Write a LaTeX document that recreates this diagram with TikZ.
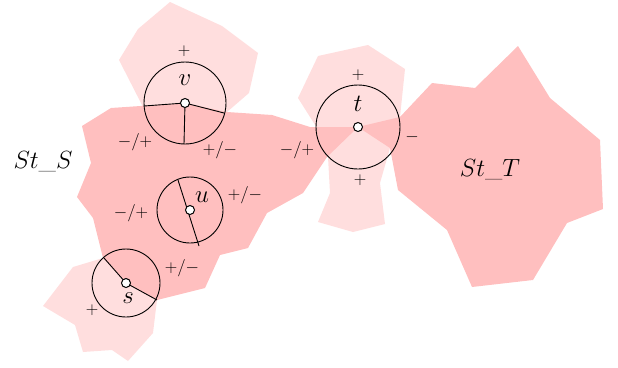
\documentclass[tikz,border=0pt]{standalone}
\begin{document}
\begin{tikzpicture}[x=1pt,y=-1pt,
  light/.style={fill=red!13, draw=none},
  dark/.style={fill=red!25, draw=none},
  vcirc/.style={circle, draw=black, line width=0.9pt, minimum size=#1, inner sep=0pt},
  dot/.style={circle, draw=black, fill=white, line width=1pt, minimum size=9pt, inner sep=0pt},
  big/.style={font=\fontsize{25}{25}\selectfont},
  sml/.style={font=\fontsize{17}{17}\selectfont},
  edge/.style={line width=0.9pt}]
\useasboundingbox (0,0) rectangle (618,367);
% light regions
\fill[light] (170,2)--(222,26)--(258,53)--(249,93)--(227,112)--(185,103)--(143,107)--(119,60)--(138,29)--cycle;
\fill[light] (103,258)--(73,267)--(43,306)--(75,325)--(83,352)--(112,350)--(128,361)--(153,333)--(157,300)--(126,283)--cycle;
\fill[light] (318,56)--(368,45)--(405,69)--(400,117)--(390,148)--(380,183)--(385,224)--(353,232)--(318,222)--(330,193)--(328,157)--(317,128)--(298,98)--cycle;
% dark regions
\fill[dark] (111,108)--(185,103)--(227,112)--(272,115)--(310,127)--(358,127)--(327,157)--(303,193)--(267,213)--(248,248)--(220,255)--(205,288)--(157,300)--(126,283)--(103,258)--(93,218)--(77,197)--(91,163)--(82,126)--cycle;
\fill[dark] (358,127)--(400,117)--(432,83)--(475,88)--(518,46)--(550,98)--(600,140)--(603,209)--(567,223)--(533,280)--(472,287)--(447,230)--(398,190)--(390,148)--cycle;
% vertex circles
\node[vcirc=82pt] (V) at (185,103) {};
\node[vcirc=66pt] (U) at (190,210) {};
\node[vcirc=68pt] (S) at (126,283) {};
\node[vcirc=84pt] (T) at (358,127) {};
% sector lines
\coordinate (v1) at (144,106);
\coordinate (v2) at (224,113);
\coordinate (v3) at (184,144);
\coordinate (u1) at (178,180);
\coordinate (u2) at (199,246);
\coordinate (s1) at (104,258);
\coordinate (s2) at (157,300);
\draw[edge] (V.center) -- (v1);
\draw[edge] (V.center) -- (v2);
\draw[edge] (V.center) -- (v3);
\draw[edge] (u1) -- (u2);
\draw[edge] (s1) -- (S.center) -- (s2);
% centre dots
\node[dot] (vc) at (V.center) {};
\node[dot] (uc) at (U.center) {};
\node[dot] (sc) at (S.center) {};
\node[dot] (tc) at (T.center) {};
% vertex labels
\node[big] (lv) at (185,80) {$v$};
\node[big] (lu) at (202,197) {$u$};
\node[big] (ls) at (128,298) {$s$};
\node[big] (lt) at (358,104) {$t$};
\node[big] (lSS) at (43,162) {$St\_S$};
\node[big] (lST) at (490,170) {$St\_T$};
% sign labels
\node[sml] (pv1) at (184,51) {$+$};
\node[sml] (pv2) at (135,142) {$-/+$};
\node[sml] (pv3) at (220,150) {$+/-$};
\node[sml] (pu1) at (131,213) {$-/+$};
\node[sml] (pu2) at (245,195) {$+/-$};
\node[sml] (ps1) at (182,268) {$+/-$};
\node[sml] (ps2) at (92,310) {$+$};
\node[sml] (pt1) at (358,75) {$+$};
\node[sml] (pt2) at (360,180) {$+$};
\node[sml] (pt3) at (412,137) {$-$};
\node[sml] (pt4) at (297,150) {$-/+$};
\end{tikzpicture}
\end{document}
